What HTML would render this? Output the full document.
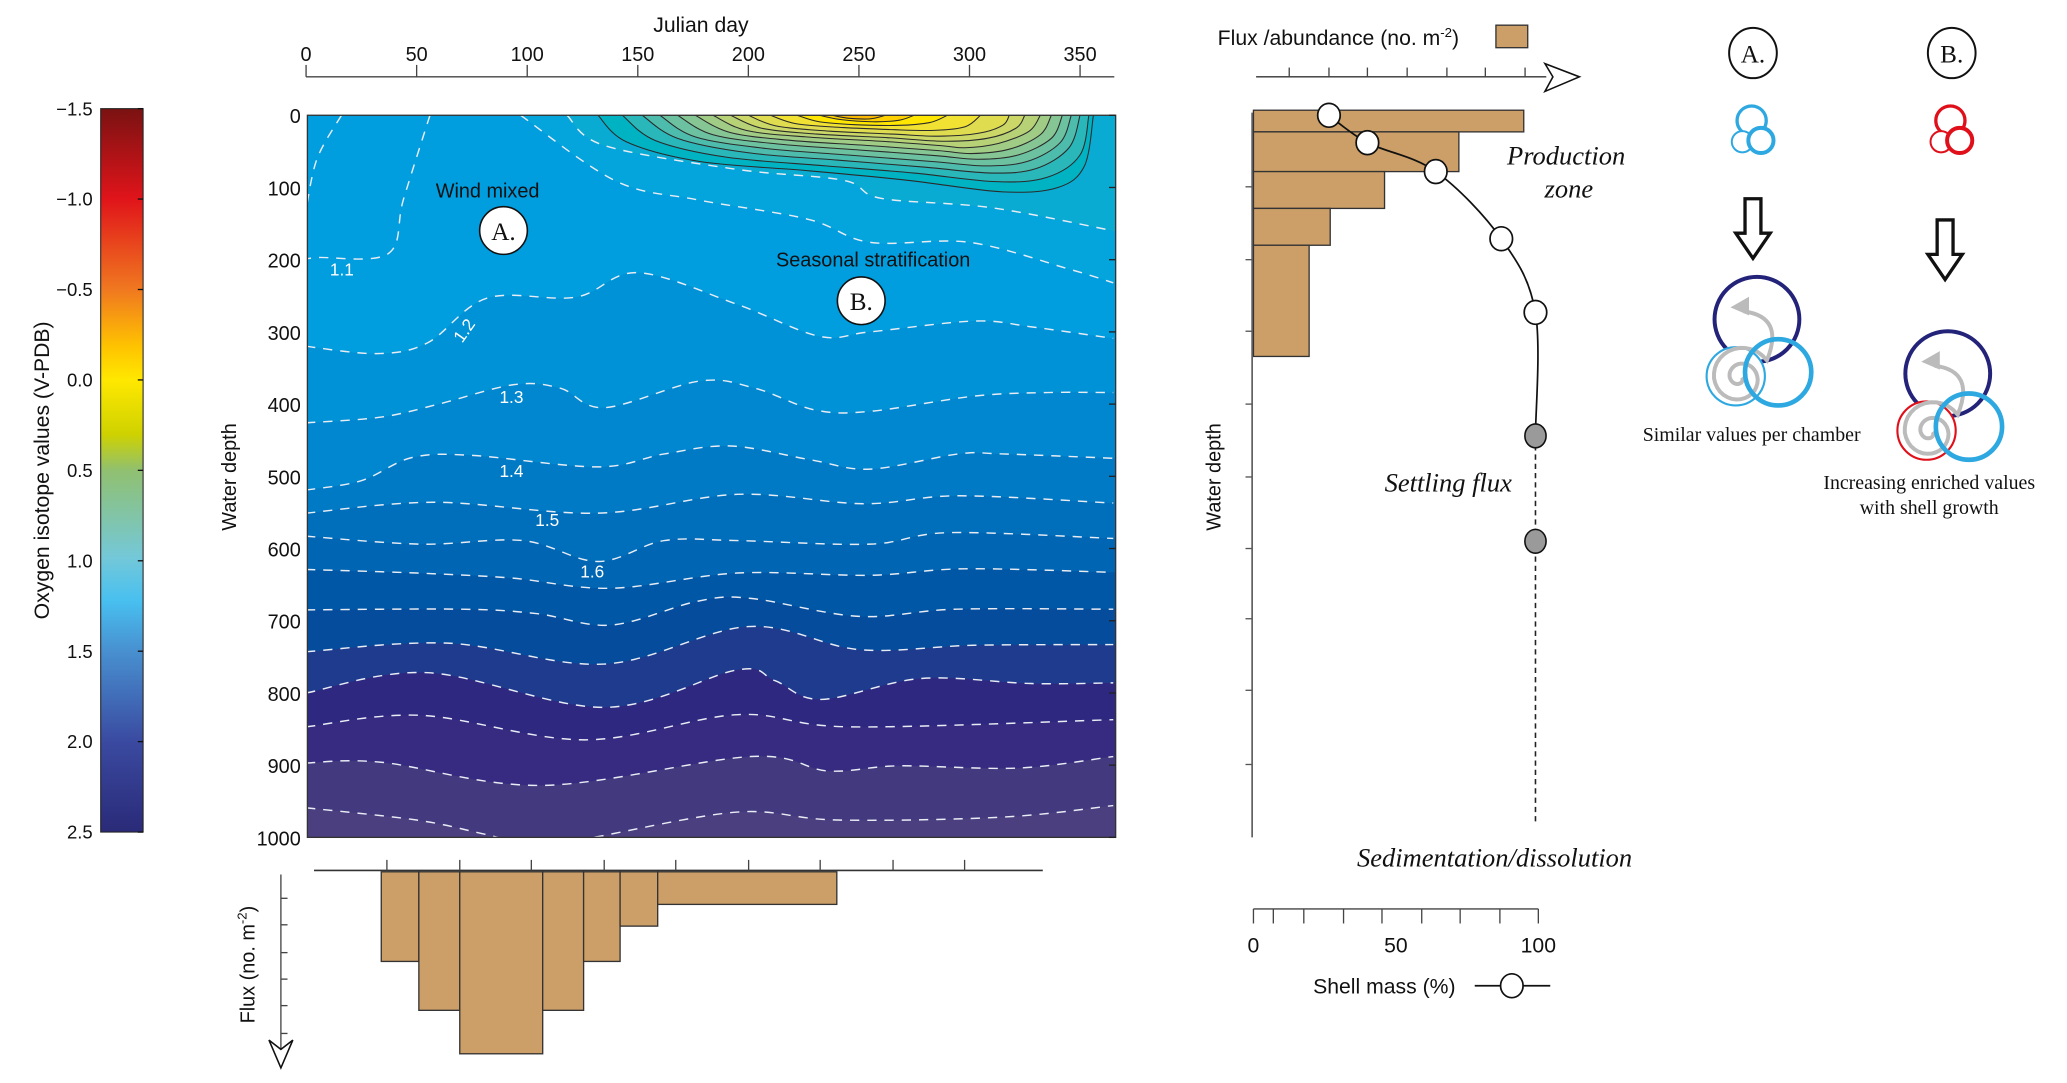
<!DOCTYPE html>
<html><head><meta charset="utf-8"><style>
html,body{margin:0;padding:0;background:#fff;}
svg{display:block;}
.ax{font-family:"Liberation Sans",sans-serif;fill:#111;}
.sf{font-family:"Liberation Serif",serif;fill:#111;}
</style></head><body>
<svg id="fig" xmlns="http://www.w3.org/2000/svg" width="2067" height="1083" viewBox="0 0 1560 817.4" preserveAspectRatio="none">
<defs>
<linearGradient id="cbg" x1="0" y1="0" x2="0" y2="1">
<stop offset="0" stop-color="#7a1212"/><stop offset="0.125" stop-color="#e0141a"/><stop offset="0.25" stop-color="#f07820"/><stop offset="0.33" stop-color="#ffc400"/><stop offset="0.375" stop-color="#ffe800"/><stop offset="0.45" stop-color="#cfd200"/><stop offset="0.5" stop-color="#90c070"/><stop offset="0.62" stop-color="#74c8d8"/><stop offset="0.68" stop-color="#48c0f0"/><stop offset="0.75" stop-color="#4890d0"/><stop offset="0.875" stop-color="#3a4aa0"/><stop offset="1" stop-color="#2a2a78"/>
</linearGradient>
<clipPath id="plotclip"><rect x="232" y="87" width="610" height="545"/></clipPath>
</defs>
<g id="colorbar"></g>
<g id="contour"></g>
<g id="fluxbottom"></g>
<g id="profile"></g>
<g id="schematic"></g>
</svg>
<script>
// ---------- data ----------
const cbTicks=[-1.5,-1.0,-0.5,0.0,0.5,1.0,1.5,2.0,2.5];
const cbLabels=["\u22121.5","\u22121.0","\u22120.5","0.0","0.5","1.0","1.5","2.0","2.5"];
const dayTicks=[0,50,100,150,200,250,300,350];
const depthTicks=[0,100,200,300,400,500,600,700,800,900,1000];
// dashed isolines: [day, depth]
const isoUpper2=[[118,0],[135,42],[195,75],[243,90],[260,115],[310,128],[365,160]];
const isoUpper=[[97,0],[140,91],[177,117],[227,144],[255,176],[300,176],[345,213],[365,232]];
const iso11=[[56,0],[44,117],[37,192],[5,197],[0,200]];
const iso11b=[[16,0],[5,60],[0,130]];
const iso12=[[0,320],[32,330],[55,315],[82,253],[122,252],[150,218],[195,262],[232,306],[255,300],[302,285],[328,293],[365,309]];
const iso13=[[0,426],[34,418],[60,400],[94,373],[115,378],[135,405],[178,368],[203,378],[230,408],[255,410],[302,389],[335,384],[365,384]];
const iso14=[[0,519],[25,506],[48,474],[75,471],[132,487],[162,469],[192,458],[228,477],[255,490],[295,469],[315,469],[365,475]];
const iso15=[[0,551],[58,536],[132,551],[195,525],[252,538],[295,527],[365,537]];
const iso16=[[0,583],[52,594],[98,589],[132,618],[162,589],[195,589],[255,594],[291,578],[365,586]];
const iso17=[[0,629],[50,634],[93,641],[138,655],[195,634],[255,637],[298,628],[365,633]];
const iso18=[[0,685],[70,684],[104,690],[138,706],[177,673],[201,669],[250,694],[294,684],[365,684]];
const iso19=[[0,743],[64,731],[135,760],[200,708],[250,740],[302,734],[365,733]];
const iso20=[[0,800],[55,772],[135,820],[195,768],[212,783],[233,809],[278,780],[328,787],[365,786]];
const iso21=[[0,847],[52,831],[126,865],[195,830],[246,847],[365,837]];
const iso22=[[0,897],[34,896],[107,928],[201,888],[236,908],[268,901],[322,904],[365,888]];
const iso23=[[0,959],[50,976],[80,995],[105,1012],[130,1000],[195,965],[240,976],[315,972],[365,956]];
// warm surface contours (solid), outer to inner
const warm1=[[132,0],[145,37],[178,64],[228,77],[272,90],[315,106],[340,100],[352,70],[356,0]];
const warm2=[[143,0],[158,35],[190,58],[235,70],[275,80],[312,92],[335,86],[350,55],[354,0]];
const warm3=[[152,0],[168,32],[200,52],[240,62],[280,72],[310,80],[330,74],[345,45],[350,0]];
const warm4=[[160,0],[176,30],[208,46],[245,55],[283,64],[307,70],[326,64],[341,38],[346,0]];
const warm5=[[168,0],[184,27],[214,40],[250,48],[285,56],[304,61],[322,55],[337,32],[342,0]];
const warm6=[[176,0],[192,24],[220,35],[255,42],[286,49],[301,53],[318,47],[332,27],[337,0]];
const warm7=[[184,0],[199,21],[226,30],[260,36],[287,42],[298,45],[313,39],[327,22],[332,0]];
const warm8=[[192,0],[206,18],[231,26],[263,31],[288,36],[308,32],[321,18],[325,0]];
const warm9=[[200,0],[213,15],[237,22],[265,26],[286,29],[304,25],[315,14],[318,0]];
const warm10=[[210,0],[222,12],[243,17],[266,20],[284,21],[298,16],[305,0]];
const warm11=[[222,0],[232,9],[248,13],[268,14],[282,10],[290,0]];
const warm12=[[232,0],[242,6],[256,9],[268,7],[275,0]];
const warm13=[[238,0],[245,4],[255,5],[262,0]];
// bottom flux histogram
const fluxEdges=[34,51,69.5,107,125.5,142,159,240];
const fluxValues=[3.3,5.1,6.7,5.1,3.3,2.0,1.2];
// right profile
const abundEdges=[-7,23,78,129,180,334];
const abundValues=[100,76,48.5,28.4,20.6];
const shellDepths=[0,38,78,171,273];
const shellMass=[26.5,40,64,87,99];
const settleDepths=[444,590];
const settleMass=[99,99];

// ---------- scales ----------
const xDay=d=>231+d*1.669;
const yDep=z=>87+z*0.545;
const yFlux=v=>658+v*20.5;
const xShell=v=>946+v*2.15;
const xAb=v=>946+v*2.04;
const yCb=v=>82+(v+1.5)*136.5;
const NS="http://www.w3.org/2000/svg";
function mk(parent,tag,attrs){const e=document.createElementNS(NS,tag);for(const k in attrs)e.setAttribute(k,attrs[k]);parent.appendChild(e);return e;}
function smooth(pts){let d="M"+pts[0][0].toFixed(1)+","+pts[0][1].toFixed(1);
 for(let i=0;i<pts.length-1;i++){const p0=pts[i-1]||pts[i],p1=pts[i],p2=pts[i+1],p3=pts[i+2]||p2;
 const c1=[p1[0]+(p2[0]-p0[0])/6,p1[1]+(p2[1]-p0[1])/6],c2=[p2[0]-(p3[0]-p1[0])/6,p2[1]-(p3[1]-p1[1])/6];
 d+=" C"+c1.map(v=>v.toFixed(1))+" "+c2.map(v=>v.toFixed(1))+" "+p2.map(v=>v.toFixed(1));}return d;}
const toPx=a=>a.map(p=>[xDay(p[0]),yDep(p[1])]);

// ---------- colorbar ----------
const cb=document.getElementById('colorbar');
let r=mk(cb,'rect',{x:76,y:82,width:32,height:546,fill:'url(#cbg)',stroke:'#222','stroke-width':0.8});


cbTicks.forEach((v,i)=>{
 mk(cb,'line',{x1:104,x2:108,y1:yCb(v),y2:yCb(v),stroke:'#111','stroke-width':1});
 const t=mk(cb,'text',{x:70,y:yCb(v)+5,'text-anchor':'end','font-size':14,class:'ax'});t.textContent=cbLabels[i];
 
 
});
let t=mk(cb,'text',{x:0,y:0,transform:'translate(37,355) rotate(-90)','text-anchor':'middle','font-size':16,class:'ax'});
t.textContent='Oxygen isotope values (V-PDB)';



// ---------- contour plot ----------
const cp=document.getElementById('contour');
const cg=mk(cp,'g',{'clip-path':'url(#plotclip)'});
mk(cg,'rect',{x:232,y:87,width:610,height:545,fill:'#0aabd2'});
const bands=[[isoUpper2,'#04a4dc'],[isoUpper,'#009ddf'],[iso12,'#0092d6'],[iso13,'#0087cf'],[iso14,'#007ac5'],[iso15,'#006fbb'],[iso16,'#0065b2'],[iso17,'#0057a6'],[iso18,'#064c9c'],[iso19,'#1f3b8e'],[iso20,'#2e2881'],[iso21,'#362b80'],[iso22,'#43397e'],[iso23,'#4b3f80']];
bands.forEach(([iso,col])=>{
 const px=toPx(iso);let d=smooth(px);
 if(iso[0][1]===0){d="M"+xDay(0)+","+yDep(0)+" L"+px[0].join(",")+" "+d.slice(1).replace(/^[^C]*/,"");}
 d+=" L"+xDay(370)+","+px[px.length-1][1]+" L"+xDay(370)+","+yDep(1020)+" L"+xDay(-5)+","+yDep(1020)+" L"+xDay(-5)+","+(iso[0][1]===0?yDep(0):px[0][1])+" Z";
 const b=mk(cg,'path',{d:d,fill:col});
 
 
});
const warms=[[warm1,'#00b3c3'],[warm2,'#2ab7ba'],[warm3,'#4ebcad'],[warm4,'#6cc1a0'],[warm5,'#86c694'],[warm6,'#a0cc85'],[warm7,'#b6d176'],[warm8,'#cbd766'],[warm9,'#dfdc50'],[warm10,'#f0e133'],[warm11,'#ffe600'],[warm12,'#ffd000'],[warm13,'#fbb800']];
warms.forEach(([w,col])=>{
 const p=mk(cg,'path',{d:smooth(toPx(w))+" Z",fill:col,stroke:'#2a2a2a','stroke-width':0.8});
 
 
});
[isoUpper2,isoUpper,iso11,iso11b,iso12,iso13,iso14,iso15,iso16,iso17,iso18,iso19,iso20,iso21,iso22,iso23].forEach(iso=>{
 const l=mk(cg,'path',{d:smooth(toPx(iso)),fill:'none',stroke:'#e8ecf4','stroke-width':1.1,'stroke-dasharray':'7,6'});
 
 
});
const isoLabels=[['1.1',258,208,0],['1.2',354,252,-55],['1.3',386,304,0],['1.4',386,360,0],['1.5',413,397,0],['1.6',447,436,0]];
isoLabels.forEach(([s,x,y,rot])=>{
 const tl=mk(cp,'text',{x:x,y:y,'text-anchor':'middle','font-size':13,fill:'#fff','font-family':'Liberation Sans, sans-serif',transform:'rotate('+rot+' '+x+' '+y+')'});tl.textContent=s;
 
 
});
mk(cp,'rect',{x:232,y:87,width:610,height:545,fill:'none',stroke:'#333','stroke-width':1});
mk(cp,'line',{x1:231,x2:841,y1:58,y2:58,stroke:'#444','stroke-width':1});
dayTicks.forEach(d=>{
 mk(cp,'line',{x1:xDay(d),x2:xDay(d),y1:49,y2:58,stroke:'#444','stroke-width':1});
 const tt=mk(cp,'text',{x:xDay(d),y:46,'text-anchor':'middle','font-size':15,class:'ax'});tt.textContent=d;
 
 
});
t=mk(cp,'text',{x:529,y:24,'text-anchor':'middle','font-size':16,class:'ax'});t.textContent='Julian day';


depthTicks.forEach(z=>{
 mk(cp,'line',{x1:837,x2:842,y1:yDep(z),y2:yDep(z),stroke:'#222'});
 const tt=mk(cp,'text',{x:227,y:yDep(z)+6,'text-anchor':'end','font-size':15,class:'ax'});tt.textContent=z;
 
 
});
t=mk(cp,'text',{x:0,y:0,transform:'translate(178,360) rotate(-90)','text-anchor':'middle','font-size':15,class:'ax'});t.textContent='Water depth';


t=mk(cp,'text',{x:368,y:149,'text-anchor':'middle','font-size':15,class:'ax'});t.textContent='Wind mixed';


t=mk(cp,'text',{x:659,y:201,'text-anchor':'middle','font-size':15,class:'ax'});t.textContent='Seasonal stratification';


[['A.',380,174],['B.',650,227]].forEach(([s,x,y])=>{
 mk(cp,'ellipse',{cx:x,cy:y,rx:18,ry:18,fill:'#fff',stroke:'#111','stroke-width':1.2});
 const tt=mk(cp,'text',{x:x,y:y+7,'text-anchor':'middle','font-size':19,class:'sf'});tt.textContent=s;
 
 
});

// ---------- bottom flux ----------
const fb=document.getElementById('fluxbottom');
for(let i=0;i<fluxValues.length;i++){
 const b=mk(fb,'rect',{x:xDay(fluxEdges[i]),y:658,width:xDay(fluxEdges[i+1])-xDay(fluxEdges[i]),height:yFlux(fluxValues[i])-658,fill:'#cc9f68',stroke:'#333','stroke-width':1});
 
 
}
mk(fb,'line',{x1:237,x2:787,y1:657,y2:657,stroke:'#333','stroke-width':1.2});
[292,347,401,456,510,565,619,674,728].forEach(x=>mk(fb,'line',{x1:x,x2:x,y1:649,y2:657,stroke:'#444'}));
mk(fb,'line',{x1:212,x2:212,y1:660,y2:800,stroke:'#444','stroke-width':1});
[678,698,719,739,759,780].forEach(y=>mk(fb,'line',{x1:212,x2:217,y1:y,y2:y,stroke:'#444'}));
mk(fb,'path',{d:'M203,785 L212,806 L221,785 L212,792 Z',fill:'#fff',stroke:'#111','stroke-width':1.2});
t=mk(fb,'text',{x:0,y:0,transform:'translate(192,728) rotate(-90)','text-anchor':'middle','font-size':15,class:'ax'});
t.innerHTML='Flux (no. m<tspan dy="-6" font-size="10">-2</tspan><tspan dy="6">)</tspan>';



// ---------- right profile ----------
const pr=document.getElementById('profile');
for(let i=0;i<abundValues.length;i++){
 const b=mk(pr,'rect',{x:946,y:yDep(abundEdges[i]),width:xAb(abundValues[i])-946,height:yDep(abundEdges[i+1])-yDep(abundEdges[i]),fill:'#cc9f68',stroke:'#333','stroke-width':1});
 
 
}
mk(pr,'line',{x1:945,x2:945,y1:85,y2:632,stroke:'#555','stroke-width':1.2});
[141,196,250,305,360,414,467,521,577].forEach(y=>mk(pr,'line',{x1:940,x2:945,y1:y,y2:y,stroke:'#555'}));
t=mk(pr,'text',{x:0,y:0,transform:'translate(921,360) rotate(-90)','text-anchor':'middle','font-size':15,class:'ax'});t.textContent='Water depth';


mk(pr,'line',{x1:948,x2:1167,y1:58,y2:58,stroke:'#333','stroke-width':1});
[973,1003,1032,1062,1092,1121,1151].forEach(x=>mk(pr,'line',{x1:x,x2:x,y1:51,y2:58,stroke:'#444'}));
mk(pr,'path',{d:'M1166,48 L1192,58 L1166,69 L1172,58 Z',fill:'#fff',stroke:'#111','stroke-width':1.2});
t=mk(pr,'text',{x:919,y:34,'font-size':16,class:'ax'});
t.innerHTML='Flux /abundance (no. m<tspan dy="-6" font-size="10">-2</tspan><tspan dy="6">)</tspan>';


r=mk(pr,'rect',{x:1129,y:19,width:24,height:17,fill:'#cc9f68',stroke:'#333'});


const sp=shellDepths.map((z,i)=>[xShell(shellMass[i]),yDep(z)]).concat([[xShell(settleMass[0]),yDep(settleDepths[0])]]);
mk(pr,'path',{d:smooth(sp),fill:'none',stroke:'#111','stroke-width':1.3});
mk(pr,'line',{x1:xShell(settleMass[0]),x2:xShell(settleMass[1]),y1:yDep(settleDepths[0]),y2:yDep(980),stroke:'#222','stroke-width':1.2,'stroke-dasharray':'4,3'});
shellDepths.forEach((z,i)=>{const c=mk(pr,'ellipse',{cx:xShell(shellMass[i]),cy:yDep(z),rx:8.5,ry:9,fill:'#fff',stroke:'#111','stroke-width':1.3});
 
 });
settleDepths.forEach((z,i)=>{const c=mk(pr,'ellipse',{cx:xShell(settleMass[i]),cy:yDep(z),rx:8,ry:9,fill:'#9a9a9a',stroke:'#111','stroke-width':1.2});
 
 });
mk(pr,'line',{x1:946,x2:1161,y1:686,y2:686,stroke:'#444'});
[946,961,984,1014,1043,1073,1102,1132,1161].forEach(x=>mk(pr,'line',{x1:x,x2:x,y1:686,y2:697,stroke:'#444'}));
[0,50,100].forEach(v=>{const tt=mk(pr,'text',{x:xShell(v),y:719,'text-anchor':'middle','font-size':16,class:'ax'});tt.textContent=v;
 
 });
t=mk(pr,'text',{x:991,y:750,'font-size':16,class:'ax'});t.textContent='Shell mass (%)';


mk(pr,'line',{x1:1113,x2:1170,y1:744,y2:744,stroke:'#111','stroke-width':1.3});
mk(pr,'ellipse',{cx:1141,cy:744,rx:8.5,ry:9,fill:'#fff',stroke:'#111','stroke-width':1.3});
[['Production',1182,124],['zone',1184,149],['Settling flux',1093,371],['Sedimentation/dissolution',1128,654]].forEach(([s,x,y])=>{
 const tt=mk(pr,'text',{x:x,y:y,'text-anchor':'middle','font-size':20,'font-style':'italic',class:'sf'});tt.textContent=s;
 
 });

// ---------- schematic ----------
const sc=document.getElementById('schematic');
[['A.',1323],['B.',1473]].forEach(([s,x])=>{
 mk(sc,'ellipse',{cx:x,cy:40,rx:18,ry:19,fill:'#fff',stroke:'#111','stroke-width':1.5});
 const tt=mk(sc,'text',{x:x,y:47,'text-anchor':'middle','font-size':19,class:'sf'});tt.textContent=s;
 
 });
[['#2ea8e0',1323],['#e0101a',1473]].forEach(([c,x])=>{
 mk(sc,'circle',{cx:x-1,cy:91,r:11,fill:'none',stroke:c,'stroke-width':2.5});
 mk(sc,'circle',{cx:x-8,cy:107,r:8,fill:'#fff',stroke:c,'stroke-width':1.5});
 mk(sc,'circle',{cx:x+6,cy:106,r:9.5,fill:'#fff',stroke:c,'stroke-width':3});
});
function arrow(x,y){const a=mk(sc,'path',{d:`M${x-6},${y} L${x+6},${y} L${x+6},${y+26} L${x+13},${y+26} L${x},${y+45} L${x-13},${y+26} L${x-6},${y+26} Z`,fill:'#fff',stroke:'#111','stroke-width':2.5});
 
 }
arrow(1323,150);arrow(1468,166);
function foram(cx,cy,smallCol){
 mk(sc,'circle',{cx:cx,cy:cy,r:32,fill:'none',stroke:'#24237a','stroke-width':3});
 mk(sc,'circle',{cx:cx-16,cy:cy+43,r:22,fill:'#fff',stroke:smallCol,'stroke-width':1.6});
 // spiral
 const sx=cx-13,sy=cy+44;let d='';
 for(let k=0;k<=60;k++){const th=k*0.2;const rr=1.5+th*1.9;const x=sx+rr*Math.cos(th),y=sy+rr*Math.sin(th);d+=(k?'L':'M')+x.toFixed(1)+','+y.toFixed(1);}
 d+=` Q${sx+34},${cy-2} ${cx-10},${cy-6}`;
 const s=mk(sc,'path',{d:d,fill:'none',stroke:'#bbb','stroke-width':3});
 
 
 mk(sc,'path',{d:`M${cx-20},${cy-9} l14,-8 l0,14 z`,fill:'#bbb'});
 mk(sc,'circle',{cx:cx+16,cy:cy+40,r:25,fill:'none',stroke:'#2ea8e0','stroke-width':3.5});
}
foram(1326,241,'#2ea8e0');foram(1470,282,'#e0101a');
[['Similar values per chamber',1322,333],['Increasing enriched values',1456,369],['with shell growth',1456,388]].forEach(([s,x,y])=>{
 const tt=mk(sc,'text',{x:x,y:y,'text-anchor':'middle','font-size':15,class:'sf'});tt.textContent=s;
 
 });
</script>
</body></html>
